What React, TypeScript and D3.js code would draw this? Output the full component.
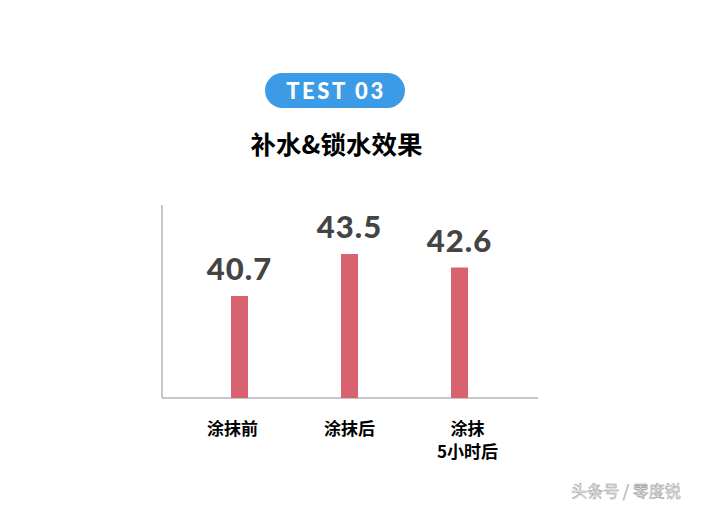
import React from "react";
import * as d3 from "d3";

const categories = ["涂抹前", "涂抹后", "涂抹\n5小时后"];
const values = [40.7, 43.5, 42.6];
const valueLabels = ["40.7", "43.5", "42.6"];
const badgeText = "TEST 03";
const title = "补水&锁水效果";
const watermark = "头条号 / 零度锐";

export default function App() {
  const W = 704;
  const H = 510;
  const baseY = 398;
  const axisX = 162;
  const x = d3.scaleBand<string>().domain(categories).range([184.5, 514.5]).padding(0);
  const y = d3.scaleLinear().domain([33.9, 43.5]).range([baseY, 254]);
  const barW = 17;
  const catFont = '"Noto Sans CJK SC", sans-serif';
  return (
    <svg width={W} height={H} style={{ position: "absolute", left: 0, top: 0, background: "#fff" }}>
      <rect x={0} y={0} width={W} height={H} fill="#fff" />
      {/* badge */}
      <rect x={265} y={73} width={140} height={35} rx={17.5} fill="#3c9be6" />
      <text x={336} y={98.5} textAnchor="middle" fill="#fff" fontFamily="Lato, 'Open Sans', sans-serif" fontWeight={900} fontSize={22} letterSpacing={2.6}>
        {badgeText}
      </text>
      {/* title */}
      <text x={336.5} y={153.5} textAnchor="middle" fill="#000" fontFamily={catFont} fontWeight={700} fontSize={25.5}>
        {title}
      </text>
      {/* axes */}
      <line x1={axisX} x2={axisX} y1={205} y2={baseY} stroke="#b5b5b5" strokeWidth={1.5} />
      <line x1={axisX} x2={538} y1={baseY} y2={baseY} stroke="#b5b5b5" strokeWidth={1.5} />
      {/* bars */}
      {categories.map((c, i) => {
        const cx = (x(c) as number) + x.bandwidth() / 2;
        const top = y(values[i]);
        return (
          <g key={c}>
            <rect x={cx - barW / 2} y={top} width={barW} height={baseY - top} fill="#d96270" />
            <text x={cx} y={top - 16} textAnchor="middle" fill="#444" fontFamily="Lato, 'Open Sans', sans-serif" fontWeight={900} fontSize={31} letterSpacing={1}>
              {valueLabels[i]}
            </text>
            {c.split("\n").map((line, j) => (
              <text key={j} x={cx + (i === 0 ? -7 : i === 2 ? 8 : 0)} y={434.5 + j * 23} textAnchor="middle" fill="#000" fontFamily={catFont} fontWeight={700} fontSize={17}>
                {line}
              </text>
            ))}
          </g>
        );
      })}
      {/* watermark */}
      <text x={626} y={497} textAnchor="middle" fill="#f7f7f7" stroke="#999" strokeWidth={0.5} fontFamily={catFont} fontSize={16}>
        {watermark}
      </text>
    </svg>
  );
}
